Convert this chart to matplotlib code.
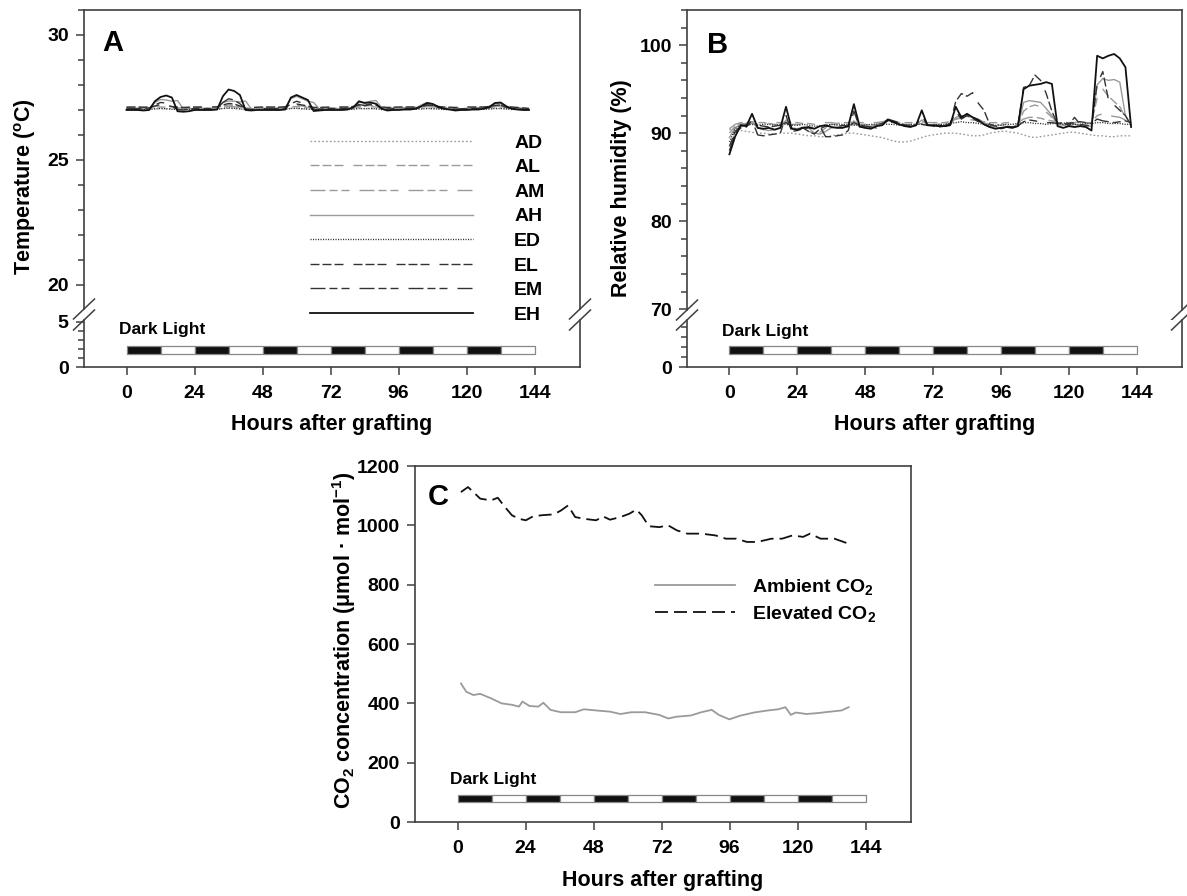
import numpy as np
import matplotlib
matplotlib.use("Agg")
import matplotlib.pyplot as plt
from matplotlib.lines import Line2D
from matplotlib.ticker import MultipleLocator, FixedLocator

plt.rcParams['font.family'] = ['Liberation Sans', 'DejaVu Sans']
plt.rcParams['font.weight'] = 'bold'
plt.rcParams['axes.labelweight'] = 'bold'
plt.rcParams['mathtext.fontset'] = 'custom'
plt.rcParams['mathtext.rm'] = 'Liberation Sans:bold'
plt.rcParams['mathtext.bf'] = 'Liberation Sans:bold'
plt.rcParams['mathtext.it'] = 'Liberation Sans:bold:italic'
plt.rcParams['lines.scale_dashes'] = False

# --- data -----------------------------------------------------------------
# hours after grafting for panels A and B (readings every 2 h)
hours_ab = np.arange(0, 144, 2)
treatments = ['AD', 'AL', 'AM', 'AH', 'ED', 'EL', 'EM', 'EH']

# Panel A: temperature (deg C)
temp_AD = [27.05, 27.05, 27.04, 27.05, 27.05, 27.06, 27.06, 27.05, 27.05, 27.04, 27.05, 27.05,
           27.05, 27.04, 27.05, 27.05, 27.05, 27.06, 27.07, 27.06, 27.05, 27.05, 27.04, 27.05,
           27.05, 27.05, 27.04, 27.05, 27.05, 27.06, 27.06, 27.05, 27.05, 27.05, 27.04, 27.05,
           27.05, 27.05, 27.05, 27.04, 27.05, 27.06, 27.06, 27.06, 27.05, 27.05, 27.04, 27.05,
           27.05, 27.05, 27.04, 27.05, 27.05, 27.06, 27.06, 27.05, 27.05, 27.04, 27.04, 27.05,
           27.05, 27.05, 27.04, 27.05, 27.05, 27.06, 27.06, 27.05, 27.05, 27.04, 27.04, 27.04]
temp_AL = [27.10, 27.10, 27.10, 27.11, 27.10, 27.14, 27.18, 27.16, 27.12, 27.10, 27.10, 27.10,
           27.10, 27.11, 27.10, 27.10, 27.11, 27.16, 27.20, 27.18, 27.12, 27.10, 27.09, 27.10,
           27.10, 27.10, 27.10, 27.11, 27.12, 27.18, 27.20, 27.16, 27.12, 27.10, 27.10, 27.10,
           27.10, 27.10, 27.10, 27.11, 27.12, 27.16, 27.15, 27.18, 27.16, 27.10, 27.10, 27.10,
           27.10, 27.10, 27.11, 27.11, 27.14, 27.18, 27.16, 27.12, 27.10, 27.10, 27.10, 27.10,
           27.10, 27.10, 27.11, 27.11, 27.12, 27.15, 27.16, 27.12, 27.10, 27.10, 27.08, 27.06]
temp_AM = [27.08, 27.08, 27.07, 27.08, 27.08, 27.10, 27.12, 27.11, 27.09, 27.08, 27.08, 27.07,
           27.08, 27.08, 27.08, 27.07, 27.08, 27.12, 27.14, 27.13, 27.10, 27.08, 27.07, 27.08,
           27.08, 27.08, 27.07, 27.08, 27.09, 27.12, 27.14, 27.12, 27.10, 27.08, 27.08, 27.08,
           27.08, 27.07, 27.08, 27.08, 27.09, 27.12, 27.11, 27.13, 27.12, 27.08, 27.08, 27.08,
           27.08, 27.08, 27.08, 27.09, 27.11, 27.14, 27.12, 27.10, 27.08, 27.08, 27.07, 27.08,
           27.08, 27.08, 27.08, 27.09, 27.10, 27.13, 27.13, 27.10, 27.08, 27.07, 27.06, 27.05]
temp_AH = [27.05, 27.05, 27.04, 27.05, 27.06, 27.30, 27.42, 27.40, 27.35, 27.38, 27.05, 27.04,
           27.05, 27.05, 27.06, 27.05, 27.06, 27.30, 27.36, 27.35, 27.32, 27.36, 27.05, 27.04,
           27.05, 27.05, 27.05, 27.06, 27.10, 27.45, 27.55, 27.45, 27.35, 27.30, 27.05, 27.04,
           27.05, 27.05, 27.06, 27.06, 27.12, 27.30, 27.30, 27.35, 27.38, 27.10, 27.05, 27.05,
           27.05, 27.06, 27.06, 27.08, 27.20, 27.30, 27.25, 27.15, 27.08, 27.06, 27.05, 27.05,
           27.05, 27.06, 27.06, 27.08, 27.15, 27.25, 27.25, 27.12, 27.08, 27.06, 27.05, 27.04]
temp_ED = [27.02, 27.02, 27.02, 27.01, 27.02, 27.04, 27.06, 27.05, 27.03, 27.02, 27.02, 27.02,
           27.02, 27.02, 27.01, 27.02, 27.03, 27.06, 27.08, 27.07, 27.04, 27.02, 27.02, 27.02,
           27.02, 27.02, 27.02, 27.01, 27.03, 27.06, 27.07, 27.05, 27.03, 27.02, 27.02, 27.02,
           27.02, 27.02, 27.02, 27.02, 27.03, 27.06, 27.05, 27.06, 27.05, 27.02, 27.02, 27.02,
           27.02, 27.02, 27.02, 27.03, 27.04, 27.06, 27.05, 27.04, 27.02, 27.02, 27.01, 27.02,
           27.02, 27.02, 27.02, 27.03, 27.04, 27.06, 27.06, 27.04, 27.02, 27.02, 27.01, 27.00]
temp_EL = [27.12, 27.12, 27.12, 27.11, 27.12, 27.16, 27.22, 27.20, 27.14, 27.11, 27.10, 27.11,
           27.12, 27.12, 27.11, 27.12, 27.13, 27.20, 27.26, 27.24, 27.16, 27.11, 27.10, 27.11,
           27.12, 27.12, 27.12, 27.11, 27.13, 27.20, 27.24, 27.20, 27.16, 27.10, 27.10, 27.11,
           27.12, 27.12, 27.12, 27.12, 27.14, 27.20, 27.18, 27.22, 27.18, 27.12, 27.10, 27.11,
           27.12, 27.12, 27.12, 27.12, 27.15, 27.20, 27.18, 27.14, 27.12, 27.11, 27.10, 27.11,
           27.12, 27.12, 27.12, 27.12, 27.14, 27.18, 27.20, 27.14, 27.12, 27.10, 27.08, 27.06]
temp_EM = [27.06, 27.06, 27.05, 27.06, 27.08, 27.20, 27.30, 27.28, 27.15, 27.02, 27.00, 27.04,
           27.06, 27.06, 27.06, 27.05, 27.08, 27.30, 27.45, 27.40, 27.25, 27.05, 27.02, 27.04,
           27.06, 27.06, 27.05, 27.06, 27.08, 27.25, 27.35, 27.28, 27.20, 27.02, 27.03, 27.05,
           27.06, 27.06, 27.06, 27.06, 27.10, 27.22, 27.18, 27.24, 27.20, 27.08, 27.04, 27.05,
           27.06, 27.06, 27.06, 27.07, 27.12, 27.20, 27.18, 27.10, 27.06, 27.05, 27.03, 27.05,
           27.06, 27.06, 27.06, 27.07, 27.10, 27.18, 27.20, 27.10, 27.06, 27.05, 27.03, 27.02]
temp_EH = [27.00, 27.00, 27.00, 26.98, 27.00, 27.35, 27.52, 27.58, 27.50, 26.95, 26.93, 26.95,
           27.00, 27.00, 27.00, 27.00, 27.02, 27.55, 27.82, 27.76, 27.60, 27.00, 26.98, 27.00,
           27.00, 27.00, 27.00, 27.00, 27.02, 27.50, 27.60, 27.50, 27.40, 26.96, 26.98, 27.00,
           27.00, 27.00, 27.00, 27.02, 27.10, 27.35, 27.28, 27.30, 27.25, 27.05, 26.98, 27.00,
           27.00, 27.02, 27.02, 27.05, 27.15, 27.28, 27.24, 27.12, 27.05, 27.02, 26.98, 27.00,
           27.00, 27.02, 27.02, 27.05, 27.12, 27.28, 27.30, 27.15, 27.05, 27.02, 27.00, 27.00]

# Panel B: relative humidity (%)
rh_AD = [90.4, 90.5, 90.3, 90.2, 90.1, 90.0, 90.0, 89.9, 89.9, 90.0, 90.0, 90.0,
         89.9, 89.8, 89.7, 89.7, 89.6, 89.6, 89.7, 89.8, 89.9, 90.0, 90.0, 89.9,
         89.8, 89.7, 89.6, 89.5, 89.3, 89.1, 89.0, 89.0, 89.1, 89.3, 89.5, 89.7,
         89.8, 89.9, 90.0, 90.0, 90.0, 89.9, 89.8, 89.7, 89.7, 89.8, 90.0, 90.1,
         90.2, 90.2, 90.1, 90.0, 89.8, 89.6, 89.5, 89.6, 89.7, 89.8, 89.9, 90.0,
         90.1, 90.1, 90.0, 89.9, 89.8, 89.7, 89.7, 89.6, 89.6, 89.7, 89.7, 89.7]
rh_AL = [90.0, 90.8, 91.1, 91.0, 91.1, 91.0, 91.0, 91.1, 91.0, 91.0, 91.2, 91.0,
         91.0, 90.9, 90.2, 90.0, 90.1, 90.6, 91.0, 91.0, 91.0, 90.9, 91.0, 91.0,
         91.0, 90.9, 91.0, 91.1, 91.3, 91.3, 91.1, 91.0, 91.0, 91.0, 91.1, 91.0,
         91.0, 91.0, 91.0, 91.1, 91.6, 91.8, 91.7, 91.6, 91.4, 91.2, 91.0, 91.0,
         90.9, 91.0, 91.0, 91.0, 92.5, 93.0, 93.2, 93.0, 92.4, 91.8, 91.2, 91.1,
         91.1, 91.1, 91.2, 91.1, 91.1, 94.0, 95.0, 94.2, 93.6, 93.0, 91.8, 91.2]
rh_AM = [90.5, 91.0, 91.2, 91.2, 91.3, 91.2, 91.2, 91.1, 91.2, 91.2, 91.3, 91.2,
         91.2, 91.1, 91.1, 91.0, 91.1, 91.2, 91.2, 91.1, 91.2, 91.2, 91.3, 91.2,
         91.2, 91.2, 91.2, 91.3, 91.4, 91.3, 91.2, 91.2, 91.2, 91.2, 91.3, 91.2,
         91.2, 91.2, 91.2, 91.3, 91.6, 91.7, 91.6, 91.5, 91.4, 91.3, 91.2, 91.2,
         91.1, 91.2, 91.2, 91.2, 91.6, 91.8, 91.8, 91.7, 91.5, 91.4, 91.3, 91.2,
         91.2, 91.2, 91.3, 91.2, 91.2, 92.0, 92.2, 92.0, 91.9, 91.8, 91.5, 91.3]
rh_AH = [89.5, 90.6, 91.0, 91.1, 91.3, 90.6, 90.4, 90.3, 90.4, 90.6, 91.5, 90.6,
         90.5, 90.7, 90.6, 90.0, 89.9, 90.2, 90.6, 90.7, 90.8, 90.7, 91.4, 90.8,
         90.7, 90.8, 90.9, 91.2, 91.5, 91.3, 91.0, 90.8, 90.8, 90.9, 91.5, 90.9,
         90.9, 90.9, 90.8, 90.9, 91.8, 92.0, 91.9, 91.8, 91.6, 91.2, 90.8, 90.7,
         90.6, 90.7, 90.7, 90.8, 93.5, 93.7, 93.6, 93.5, 92.8, 92.0, 91.0, 90.9,
         90.9, 91.0, 90.9, 90.8, 90.8, 95.5, 96.2, 96.0, 96.1, 95.8, 92.0, 90.9]
rh_ED = [89.0, 90.5, 90.9, 91.0, 91.0, 90.9, 91.0, 91.0, 90.9, 91.0, 91.0, 90.9,
         90.9, 91.0, 90.9, 90.8, 90.8, 90.9, 91.0, 90.9, 91.0, 91.0, 90.9, 90.9,
         90.9, 91.0, 91.0, 91.1, 91.0, 91.0, 90.9, 90.9, 91.0, 91.0, 91.0, 90.9,
         90.9, 91.0, 91.0, 91.1, 91.2, 91.3, 91.2, 91.2, 91.1, 91.0, 90.9, 90.9,
         90.9, 91.0, 91.0, 91.1, 91.2, 91.2, 91.1, 91.1, 91.0, 91.1, 91.1, 91.0,
         91.0, 91.0, 91.0, 91.1, 91.1, 91.2, 91.2, 91.1, 91.1, 91.1, 91.0, 91.0]
rh_EL = [88.5, 90.2, 90.8, 90.9, 91.0, 90.9, 90.8, 90.7, 90.8, 90.9, 91.2, 90.8,
         90.7, 90.6, 90.2, 89.9, 90.5, 90.8, 90.8, 90.7, 90.9, 90.8, 91.2, 90.9,
         90.8, 90.7, 90.9, 91.1, 91.4, 91.2, 91.0, 90.9, 90.8, 90.9, 91.0, 90.9,
         90.9, 90.8, 90.9, 91.0, 93.6, 94.5, 94.2, 94.6, 93.4, 92.6, 91.0, 90.8,
         90.7, 90.8, 90.7, 90.9, 95.2, 95.4, 96.6, 96.0, 94.5, 92.5, 91.0, 91.2,
         90.9, 91.8, 91.0, 90.9, 90.8, 95.6, 97.0, 93.8, 93.2, 92.6, 92.0, 90.9]
rh_EM = [88.0, 90.0, 90.6, 90.7, 91.5, 89.8, 89.7, 89.8, 89.9, 90.0, 92.0, 90.2,
         90.3, 90.5, 90.6, 90.5, 90.8, 89.6, 89.6, 89.7, 89.8, 90.3, 92.5, 90.7,
         90.6, 90.7, 90.6, 91.0, 91.6, 91.4, 91.2, 90.9, 90.8, 90.9, 92.0, 90.9,
         90.8, 90.7, 90.8, 90.9, 92.5, 91.6, 92.0, 91.7, 91.3, 91.0, 90.7, 90.6,
         90.5, 90.7, 90.7, 90.8, 91.3, 91.5, 91.4, 91.3, 91.2, 91.2, 91.1, 91.2,
         91.1, 91.2, 91.3, 91.2, 91.1, 91.6, 91.4, 91.3, 91.2, 91.3, 91.4, 91.2]
rh_EH = [87.6, 89.6, 90.9, 90.8, 92.2, 90.6, 90.5, 90.6, 90.4, 90.6, 93.0, 90.5,
         90.4, 90.6, 90.7, 90.5, 90.8, 90.9, 90.7, 90.6, 90.6, 90.8, 93.3, 90.8,
         90.6, 90.5, 90.8, 90.9, 91.5, 91.3, 91.0, 90.8, 90.7, 90.9, 92.6, 90.9,
         90.9, 90.8, 90.8, 90.9, 93.0, 91.8, 92.2, 91.8, 91.5, 91.0, 90.7, 90.5,
         90.6, 90.7, 90.6, 90.8, 95.0, 95.4, 95.5, 95.6, 95.8, 95.6, 90.8, 90.6,
         90.8, 90.7, 90.8, 90.7, 90.3, 98.8, 98.5, 98.8, 99.0, 98.5, 97.5, 90.7]

# Panel C: CO2 concentration (umol/mol)
amb_hours = [1.2, 3.1, 5.6, 8.0, 11.8, 15.5, 19.2, 21.7, 22.9, 25.4, 28.5, 30.3, 32.8,
             36.5, 41.5, 44.6, 48.9, 53.8, 57.5, 61.3, 66.2, 71.2, 74.3, 77.4, 82.3,
             86.0, 89.7, 92.2, 95.9, 99.6, 104.6, 109.5, 113.2, 115.7, 117.6, 119.4,
             123.1, 126.9, 130.6, 135.5, 138.0]
amb_co2 = [467, 439, 428, 432, 417, 400, 395, 389, 406, 391, 389, 402, 378,
           370, 370, 380, 376, 372, 364, 370, 370, 361, 349, 355, 359,
           370, 378, 361, 346, 358, 369, 376, 380, 387, 361, 369,
           364, 367, 371, 376, 387]
elev_hours = [1.2, 3.7, 5.6, 8.0, 11.8, 14.2, 16.7, 19.2, 21.7, 24.1, 26.6, 29.7, 34.0,
              36.5, 39.0, 41.5, 44.6, 48.9, 51.4, 53.8, 57.5, 60.6, 63.1, 65.0, 67.5,
              71.2, 74.3, 77.4, 81.1, 86.0, 91.0, 94.7, 98.4, 102.1, 105.8, 110.8,
              114.5, 118.2, 121.9, 124.4, 128.1, 133.0, 138.0]
elev_co2 = [1112, 1129, 1112, 1090, 1084, 1093, 1062, 1034, 1022, 1017, 1030, 1034, 1037,
            1050, 1067, 1028, 1022, 1017, 1030, 1019, 1028, 1039, 1053, 1034, 997,
            994, 1000, 983, 972, 972, 966, 955, 955, 944, 944, 955,
            955, 966, 961, 972, 955, 955, 938]

# photoperiod bar: 12 h dark / 12 h light
period_start = [0, 12, 24, 36, 48, 60, 72, 84, 96, 108, 120, 132]
period_dark = [True, False, True, False, True, False, True, False, True, False, True, False]

# --- styles ---------------------------------------------------------------
GREY = '#9a9a9a'
DARK = '#333333'
px = 0.72  # one pixel in points at 100 dpi
group3 = (0, (9 * px, 3 * px, 9 * px, 3 * px, 9 * px, 10 * px))
longshort = (0, (15 * px, 4 * px, 8 * px, 4 * px, 8 * px, 10 * px))
styles = {
    'AD': dict(color=GREY, ls=(0, (1.2, 1.6)), lw=1.0),
    'AL': dict(color=GREY, ls=group3, lw=1.0),
    'AM': dict(color=GREY, ls=longshort, lw=1.0),
    'AH': dict(color=GREY, ls='-', lw=1.0),
    'ED': dict(color=DARK, ls=(0, (0.8, 1.0)), lw=1.0),
    'EL': dict(color=DARK, ls=group3, lw=1.0),
    'EM': dict(color=DARK, ls=longshort, lw=1.0),
    'EH': dict(color='#111111', ls='-', lw=1.3),
}
temp_series = dict(AD=temp_AD, AL=temp_AL, AM=temp_AM, AH=temp_AH,
                   ED=temp_ED, EL=temp_EL, EM=temp_EM, EH=temp_EH)
rh_series = dict(AD=rh_AD, AL=rh_AL, AM=rh_AM, AH=rh_AH,
                 ED=rh_ED, EL=rh_EL, EM=rh_EM, EH=rh_EH)

W, H = 1187, 896
SPINE = '#404040'
TICK_FS = 14
LABEL_FS = 15.5


def box(left, top, right, bottom):
    return [left / W, 1 - bottom / H, (right - left) / W, (bottom - top) / H]


def style_axes(ax):
    for s in ax.spines.values():
        s.set_color(SPINE)
        s.set_linewidth(1.2)
    ax.tick_params(which='both', direction='out', color=SPINE, width=1.1,
                   labelsize=TICK_FS)
    ax.tick_params(which='major', length=6, pad=5)
    ax.tick_params(which='minor', length=4)
    ax.tick_params(axis='x', pad=7)
    ax.set_xlim(-15, 160)


def break_marks(ax, at_bottom):
    dx = 10.5 / ax.bbox.width
    dy = 10.0 / ax.bbox.height
    y0 = 0 if at_bottom else 1
    for x0 in (0, 1):
        ax.plot([x0 - dx, x0 + dx], [y0 - dy, y0 + dy], transform=ax.transAxes,
                color=SPINE, lw=1.1, clip_on=False)


def day_night_bar(ax, y0, height, text_y):
    for start, dark in zip(period_start, period_dark):
        ax.broken_barh([(start, 12)], (y0, height),
                       facecolors='#111111' if dark else 'white',
                       edgecolors='#888888', linewidth=0.9)
    ax.text(-2.5, text_y, 'Dark Light', fontsize=12.5, va='center', ha='left')


def broken_panel(up_box, lo_box):
    ax_up = fig.add_axes(box(*up_box))
    ax_lo = fig.add_axes(box(*lo_box))
    for ax in (ax_up, ax_lo):
        style_axes(ax)
    ax_up.spines['bottom'].set_visible(False)
    ax_up.tick_params(axis='x', which='both', bottom=False, labelbottom=False)
    ax_lo.spines['top'].set_visible(False)
    ax_lo.set_xticks(np.arange(0, 145, 24))
    break_marks(ax_up, True)
    break_marks(ax_lo, False)
    ax_lo.set_xlabel('Hours after grafting', fontsize=LABEL_FS)
    ax_lo.xaxis.set_label_coords(0.5, -1.0)
    return ax_up, ax_lo


fig = plt.figure(figsize=(W / 100, H / 100), dpi=100)

# --- Panel A --------------------------------------------------------------
axA, axA_lo = broken_panel((84, 10, 580, 309), (84, 320, 580, 367))
for name in treatments:
    axA.plot(hours_ab, temp_series[name], **styles[name])
axA.set_ylim(19.04, 31.0)
axA.set_yticks([20, 25, 30])
axA.yaxis.set_minor_locator(MultipleLocator(1))
axA.set_ylabel('Temperature ($^\\mathrm{o}$C)', fontsize=LABEL_FS)
axA.yaxis.set_label_coords(-0.093, 0.408)
axA_lo.set_ylim(0, 5.2)
axA_lo.set_yticks([0, 5])
axA_lo.yaxis.set_minor_locator(FixedLocator([1, 2, 3, 4]))
day_night_bar(axA_lo, 1.45, 0.92, 4.1)
fig.text(102 / W, 1 - 43 / H, 'A', fontsize=21, va='center', ha='left')

handles = [Line2D([], [], **styles[n]) for n in treatments]
fig.legend(handles, treatments, loc='upper left',
           bbox_to_anchor=(310 / W, 1 - 134 / H), bbox_transform=fig.transFigure,
           frameon=False, borderpad=0, borderaxespad=0, handlelength=8.4,
           handletextpad=2.1, labelspacing=0.36, fontsize=14)

# --- Panel B --------------------------------------------------------------
axB, axB_lo = broken_panel((687, 10, 1182, 310), (687, 320, 1182, 367))
for name in treatments:
    axB.plot(hours_ab, rh_series[name], **styles[name])
axB.set_ylim(69.9, 104.0)
axB.set_yticks([70, 80, 90, 100])
axB.yaxis.set_minor_locator(MultipleLocator(2))
axB.set_ylabel('Relative humidity (%)', fontsize=LABEL_FS)
axB.yaxis.set_label_coords(-0.111, 0.407)
axB_lo.set_ylim(0, 4.7)
axB_lo.set_yticks([0])
axB_lo.yaxis.set_minor_locator(FixedLocator([1, 2, 3, 4]))
day_night_bar(axB_lo, 1.27, 0.83, 3.6)
fig.text(707 / W, 1 - 45 / H, 'B', fontsize=21, va='center', ha='left')

# --- Panel C --------------------------------------------------------------
axC = fig.add_axes(box(415, 466, 911, 822))
style_axes(axC)
axC.plot(amb_hours, amb_co2, color=GREY, lw=1.3, label='Ambient CO$_\\mathrm{2}$')
axC.plot(elev_hours, elev_co2, color='#111111', lw=1.3,
         ls=(0, (13 * px, 6 * px)), label='Elevated CO$_\\mathrm{2}$')
axC.set_ylim(0, 1200)
axC.set_yticks(np.arange(0, 1201, 200))
axC.set_xticks(np.arange(0, 145, 24))
axC.set_ylabel('CO$_\\mathrm{2}$ concentration (\u03bcmol \u00b7 mol$^\\mathrm{-1}$)',
               fontsize=LABEL_FS)
axC.yaxis.set_label_coords(-0.115, 0.51)
axC.set_xlabel('Hours after grafting', fontsize=LABEL_FS)
axC.xaxis.set_label_coords(0.5, -0.135)
day_night_bar(axC, 68, 24, 142)
axC.legend(loc='upper left', bbox_to_anchor=(655 / W, 1 - 577 / H),
           bbox_transform=fig.transFigure, frameon=False, borderpad=0,
           borderaxespad=0, handlelength=4.1, handletextpad=0.9,
           labelspacing=0.35, fontsize=14)
fig.text(428 / W, 1 - 497 / H, 'C', fontsize=21, va='center', ha='left')

fig.savefig('out.png', dpi=100)
